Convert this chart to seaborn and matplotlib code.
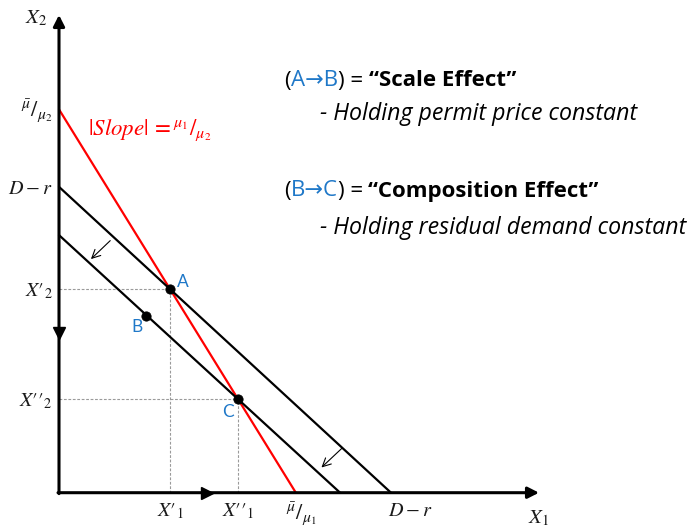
import matplotlib
matplotlib.use("Agg")
import matplotlib.pyplot as plt
import seaborn as sns
import numpy as np
import pandas as pd
from matplotlib.offsetbox import TextArea, HPacker, AnnotationBbox

# Line intercepts (x-intercept, y-intercept)
permit_line = (7.12, 12.47)      # µ̄/µ1 , µ̄/µ2
demand_line = (9.98, 9.95)       # D − r
shifted_demand = (8.45, 8.38)    # lower residual demand
point_B = (2.62, 5.76)

x_labels = [r"$X\prime{}_1$", r"$X\prime\prime{}_1$", r"$^{\bar{\mu}}/_{\mu_1}$", r"$D-r$"]
y_labels = [r"$^{\bar{\mu}}/_{\mu_2}$", r"$D-r$", r"$X\prime{}_2$", r"$X\prime\prime{}_2$"]
x_lim, y_lim = 14.43, 15.54

RED = "#ff0000"
BLUE = "#1f78c8"
GREY = "#9a9a9a"
INK = "#1a1a1a"


def intersect(l1, l2):
    """Crossing point of two lines given in intercept form x/a + y/b = 1."""
    m = np.array([[1 / l1[0], 1 / l1[1]], [1 / l2[0], 1 / l2[1]]])
    return tuple(np.linalg.solve(m, np.ones(2)))


A = intersect(demand_line, permit_line)
C = intersect(shifted_demand, permit_line)

sns.set_theme(style="white")
plt.rcParams["mathtext.fontset"] = "stix"
plt.rcParams["font.family"] = ["Lato", "DejaVu Sans"]

fig = plt.figure(figsize=(6.91, 5.30), dpi=100)
ax = fig.add_axes([59 / 691, 37.3 / 530, (539 - 59) / 691, (492.7 - 15) / 530])
ax.set_xlim(0, x_lim)
ax.set_ylim(0, y_lim)
ax.axis("off")

lines = pd.DataFrame({
    "x": [0, permit_line[0], 0, demand_line[0], 0, shifted_demand[0]],
    "y": [permit_line[1], 0, demand_line[1], 0, shifted_demand[1], 0],
    "line": ["permit", "permit", "demand", "demand", "shifted", "shifted"],
})
sns.lineplot(data=lines, x="x", y="y", hue="line", units="line", estimator=None,
             palette={"permit": RED, "demand": "black", "shifted": "black"},
             linewidth=1.6, legend=False, ax=ax, sort=False, clip_on=False)

# guide lines from A and C to the axes
for px, py in (A, C):
    ax.plot([0, px], [py, py], color=GREY, lw=0.8, ls=(0, (2.5, 1.5)), zorder=1)
    ax.plot([px, px], [0, py], color=GREY, lw=0.8, ls=(0, (2.5, 1.5)), zorder=1)

pts = pd.DataFrame({"x": [A[0], point_B[0], C[0]], "y": [A[1], point_B[1], C[1]]})
sns.scatterplot(data=pts, x="x", y="y", color="black", s=45, edgecolor="black",
                zorder=5, ax=ax, clip_on=False)

# axes with arrow heads
arrow_kw = dict(arrowstyle="-|>,head_length=0.55,head_width=0.28", color="black",
                lw=2.2, shrinkA=0, shrinkB=0)
ax.annotate("", xy=(x_lim, 0), xytext=(-0.03, 0), arrowprops=arrow_kw, annotation_clip=False)
ax.annotate("", xy=(0, y_lim), xytext=(0, -0.03), arrowprops=arrow_kw, annotation_clip=False)
ax.plot([0], [5.2], marker="v", color="black", ms=8, clip_on=False, zorder=6)
ax.plot([4.46], [0], marker=">", color="black", ms=8, clip_on=False, zorder=6)

# shift arrows
thin = dict(arrowstyle="->,head_length=0.5,head_width=0.25", color="black", lw=0.8,
            shrinkA=0, shrinkB=0)
ax.annotate("", xy=(0.96, 7.6), xytext=(1.54, 8.2), arrowprops=thin)
ax.annotate("", xy=(7.89, 0.82), xytext=(8.5, 1.44), arrowprops=thin)

# axis labels
ax.text(-0.68, 15.45, r"$X_2$", fontsize=15, ha="center", va="center", color=INK)
ax.annotate(r"$X_1$", xy=(x_lim, 0), xytext=(0, -25), textcoords="offset pixels",
            fontsize=15, ha="center", va="center", color=INK, annotation_clip=False)

ymarks = [permit_line[1], demand_line[1], A[1], C[1]]
ysizes = [16, 14.5, 14.5, 14.5]
for lab, yv, fs in zip(y_labels, ymarks, ysizes):
    ax.annotate(lab, xy=(0, yv), xytext=(-6, -2), textcoords="offset pixels",
                ha="right", va="center", fontsize=fs, color=INK, annotation_clip=False)

xmarks = [A[0], C[0], permit_line[0], demand_line[0]]
xoffs = [0, 0, 6, 19]
yoffs = [-18, -18, -22, -18]
xsizes = [14.5, 14.5, 16, 14.5]
for lab, xv, dx, dy, fs in zip(x_labels, xmarks, xoffs, yoffs, xsizes):
    ax.annotate(lab, xy=(xv, 0), xytext=(dx, dy), textcoords="offset pixels",
                ha="center", va="center", fontsize=fs, color=INK, annotation_clip=False)

ax.text(0.87, 11.78, r"$|Slope|\, = {}^{\mu_1}/_{\mu_2}$", fontsize=16.5, color=RED,
        ha="left", va="center")

# point names
ax.annotate("A", xy=A, xytext=(13, 7), textcoords="offset pixels", color=BLUE,
            fontsize=12.5, ha="center", va="center")
ax.annotate("B", xy=point_B, xytext=(-9, -11), textcoords="offset pixels", color=BLUE,
            fontsize=12.5, ha="center", va="center")
ax.annotate("C", xy=C, xytext=(-10, -13), textcoords="offset pixels", color=BLUE,
            fontsize=12.5, ha="center", va="center")


def rich_line(parts, x_px, y_px, size=15, family="Open Sans"):
    boxes = [TextArea(s, textprops=dict(color=c, fontsize=size, fontweight=w,
                                        fontstyle=st, family=[family, "DejaVu Sans"]))
             for s, c, w, st in parts]
    pack = HPacker(children=boxes, align="baseline", pad=0, sep=0)
    ab = AnnotationBbox(pack, (x_px, 530 - y_px), xycoords="figure pixels",
                        box_alignment=(0, 0.5), frameon=False, pad=0)
    fig.add_artist(ab)


rich_line([("(", "black", "normal", "normal"), ("A\u2192B", BLUE, "normal", "normal"),
           (") = ", "black", "normal", "normal"),
           ("\u201cScale Effect\u201d", "black", "bold", "normal")], 284, 81, size=16)
rich_line([("- Holding permit price constant", "black", "normal", "italic")], 320, 114,
          size=16.7)
rich_line([("(", "black", "normal", "normal"), ("B\u2192C", BLUE, "normal", "normal"),
           (") = ", "black", "normal", "normal"),
           ("\u201cComposition Effect\u201d", "black", "bold", "normal")], 284, 191, size=16)
rich_line([("- Holding residual demand constant", "black", "normal", "italic")], 320, 228,
          size=16.7)

fig.savefig("out.png", dpi=100)
